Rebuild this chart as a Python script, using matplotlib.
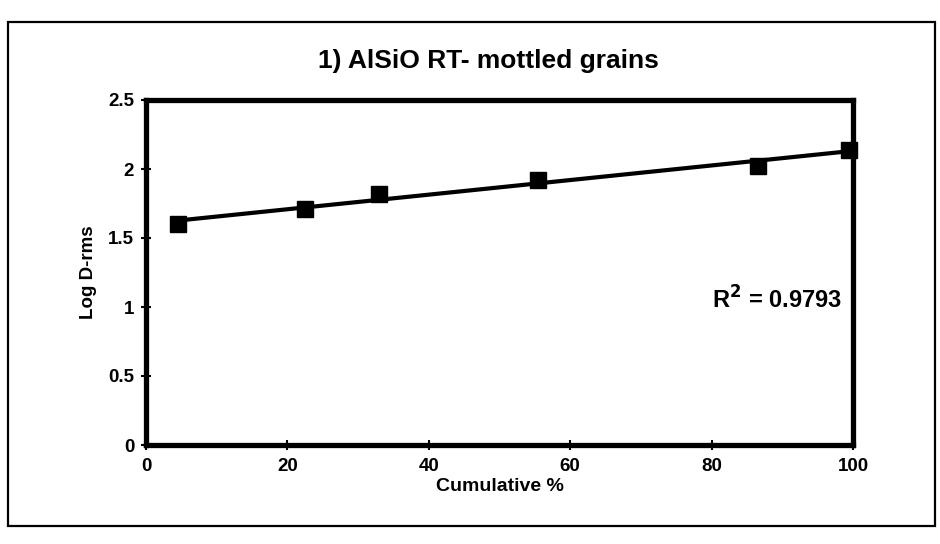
import numpy as np
import matplotlib
matplotlib.use("Agg")
import matplotlib.pyplot as plt
from matplotlib.patches import Rectangle

# Data
cumulative_pct = [4.5, 22.5, 33, 55.5, 86.5, 99.5]
log_d_rms = [1.60, 1.71, 1.82, 1.92, 2.02, 2.14]
x_ticks = [0, 20, 40, 60, 80, 100]
y_ticks = [0, 0.5, 1, 1.5, 2, 2.5]
y_tick_labels = ["0", "0.5", "1", "1.5", "2", "2.5"]
title = "1) AlSiO RT- mottled grains"
r2_text = "R$^2$ = 0.9793"

plt.rcParams['font.family'] = ['Liberation Sans', 'DejaVu Sans']
plt.rcParams['font.weight'] = 'bold'
plt.rcParams['mathtext.default'] = 'bf'

W, H = 940, 544
fig = plt.figure(figsize=(W / 100, H / 100), dpi=100)
fig.patch.set_facecolor('white')

# outer chart border
fig.add_artist(Rectangle((8 / W, 1 - 526 / H), (935 - 8) / W, (526 - 22) / H,
                         transform=fig.transFigure, fill=False,
                         edgecolor='black', linewidth=1.6))

left, right, top, bottom = 146, 853, 100, 445
ax = fig.add_axes([left / W, 1 - bottom / H, (right - left) / W, (bottom - top) / H])

ax.plot(cumulative_pct, log_d_rms, linestyle='none', marker='s', markersize=12,
        color='black', zorder=4, clip_on=False)

coef = np.polyfit(cumulative_pct, log_d_rms, 1)
xf = np.array([cumulative_pct[0], 100])
ax.plot(xf, np.polyval(coef, xf), color='black', linewidth=3, zorder=3, clip_on=False)

ax.set_xlim(0, 100)
ax.set_ylim(0, 2.5)
ax.set_xticks(x_ticks)
ax.set_xticklabels([str(v) for v in x_ticks])
ax.set_yticks(y_ticks)
ax.set_yticklabels(y_tick_labels)
for s in ax.spines.values():
    s.set_linewidth(3.8)
ax.tick_params(direction='inout', length=7, width=1.5, labelsize=13.5)
ax.tick_params(axis='x', pad=6)
ax.tick_params(axis='y', pad=5)
for lab in ax.get_xticklabels() + ax.get_yticklabels():
    lab.set_fontweight('bold')

ax.set_xlabel("Cumulative %", fontsize=14, fontweight='bold', labelpad=2)
ax.set_ylabel("Log D-rms", fontsize=13.5, fontweight='bold', labelpad=8)

fig.text(488 / W, 1 - 61 / H, title, ha='center', va='center',
         fontsize=19, fontweight='bold')
ax.text(0.80, 0.42, r2_text, transform=ax.transAxes, ha='left', va='center',
        fontsize=17, fontweight='bold')

fig.savefig("out.png", dpi=100, facecolor='white')
